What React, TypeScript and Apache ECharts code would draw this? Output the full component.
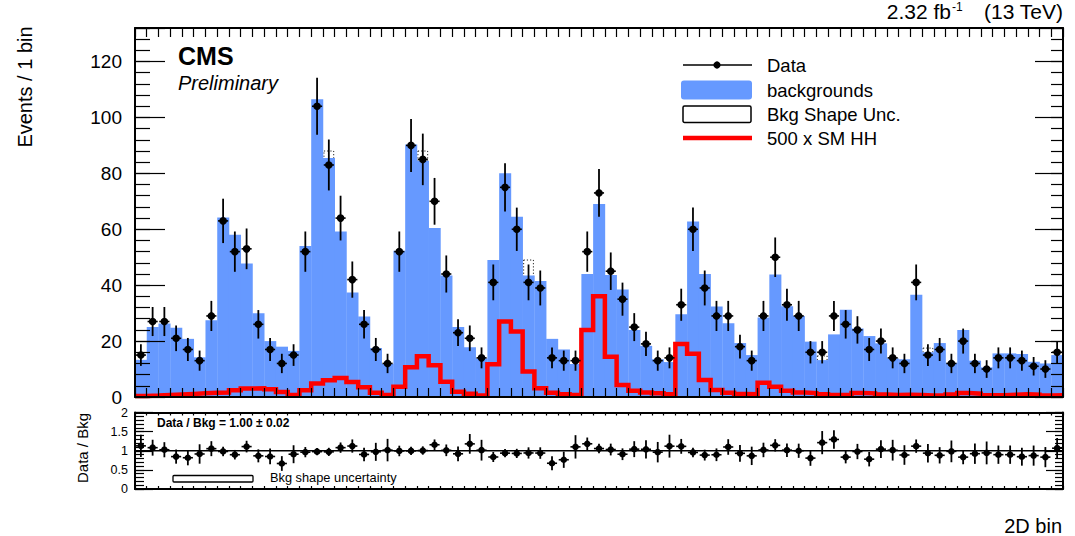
import React, { useEffect, useRef } from 'react';
import * as echarts from 'echarts';

// 79 bins of the unrolled 2D distribution
const binCount = 79;

// Observed events per bin
const dataCounts = [
  15, 27, 27, 21, 17, 13, 29, 63, 52, 53,
  26, 17, 12, 15, 52, 104, 83, 64, 42, 26,
  17, 12, 52, 90, 85, 70, 44, 23, 21, 14,
  41, 75, 60, 41, 39, 14, 13, 13, 52, 73,
  45, 35, 25, 19, 13, 14, 33, 60, 39, 29,
  29, 18, 13, 29, 50, 33, 29, 16, 16, 29,
  26, 24, 17, 20, 14, 12, 41, 15, 17, 12,
  20, 12, 10, 14, 14, 13, 11, 10, 16,
];

// Expected background yield per bin
const bkgYields = [
  13.3, 25.0, 26.3, 24.8, 20.8, 14.2, 27.5, 64.2, 58.0, 47.8,
  30.0, 20.0, 18.0, 16.5, 54.0, 106.5, 85.5, 59.2, 37.4, 28.8,
  17.5, 11.8, 52.3, 90.3, 84.5, 60.5, 43.5, 25.0, 17.8, 13.8,
  49.0, 80.0, 64.5, 43.5, 41.5, 20.8, 17.0, 11.8, 44.0, 69.0,
  43.6, 38.5, 24.0, 18.3, 13.5, 12.5, 29.6, 62.8, 44.0, 32.4,
  26.4, 19.3, 15.0, 28.4, 43.8, 32.5, 29.0, 19.8, 13.2, 22.4,
  31.2, 24.5, 21.8, 19.2, 13.8, 13.5, 36.6, 16.0, 19.3, 12.2,
  24.0, 13.0, 10.6, 15.6, 15.6, 15.4, 12.6, 12.0, 15.0,
];

// 500 x SM HH expectation per bin
const hhSignal = [
  0.4, 0.5, 0.7, 0.9, 1.1, 1.3, 1.5, 1.6, 2.4, 3.0,
  3.1, 2.8, 1.8, 0.7, 2.4, 4.8, 6.0, 6.8, 5.4, 3.5,
  1.5, 0.7, 3.7, 10.6, 14.6, 11.4, 5.5, 1.9, 1.2, 0.5,
  11.7, 27.0, 23.4, 9.1, 3.1, 1.5, 1.0, 0.7, 24.0, 36.0,
  14.4, 4.3, 2.2, 1.6, 1.3, 1.0, 19.0, 15.5, 6.1, 2.5,
  1.5, 1.1, 1.0, 5.1, 3.7, 2.2, 1.6, 1.4, 1.0, 0.7,
  0.8, 1.4, 1.3, 0.9, 0.7, 0.8, 0.7, 0.5, 0.6, 0.9,
  1.4, 1.2, 0.6, 0.6, 0.8, 1.0, 0.8, 0.5, 0.6,
];

// Background shape uncertainty per bin (0 where it is negligible)
const bkgShapeUnc = [
  0, 0, 0, 0, 0, 0, 0, 0, 0, 0,
  0, 0, 0, 0, 0, 0, 2.5, 0, 0, 0,
  0, 0, 0, 0, 3.5, 0, 0, 0, 0, 0,
  0, 0, 0, 5.5, 0, 0, 0, 0, 0, 0,
  0, 0, 0, 0, 0, 0, 0, 0, 0, 0,
  0, 0, 0, 0, 0, 0, 0, 0, 1.5, 0,
  0, 0, 0, 0, 0, 0, 0, 1.5, 0, 0,
  0, 0, 0, 0, 0, 0, 0, 0, 0,
];

const mainTickLabels = [0, 20, 40, 60, 80, 100, 120];
const ratioTickLabels = [0, 0.5, 1, 1.5, 2];

const FONT = "'Liberation Sans', Arial, Helvetica, sans-serif";
const BLUE = '#6699ff';
const RED = '#ff0000';

function xAxisDef(gridIndex: number, position: string, tickLen: number) {
  return {
    type: 'value',
    gridIndex,
    position,
    min: 0,
    max: binCount,
    interval: 1,
    z: 10,
    axisLine: { show: true, onZero: false, lineStyle: { color: '#000', width: 2 } },
    axisTick: { show: true, inside: true, length: tickLen, lineStyle: { color: '#000', width: 1.2 } },
    axisLabel: { show: false },
    splitLine: { show: false },
  };
}

function yAxisDef(
  gridIndex: number,
  position: string,
  max: number,
  interval: number,
  tickLen: number,
  showLine: boolean,
  labels: number[] | null,
  fontSize: number,
  margin: number,
) {
  return {
    type: 'value',
    gridIndex,
    position,
    min: 0,
    max,
    interval,
    z: 10,
    axisLine: { show: showLine, onZero: false, lineStyle: { color: '#000', width: 2 } },
    axisTick: { show: true, inside: true, length: tickLen, lineStyle: { color: '#000', width: 1.2 } },
    axisLabel: labels
      ? {
          show: true,
          color: '#000',
          fontFamily: FONT,
          fontSize,
          margin,
          formatter: (v: number) => (labels.some((t) => Math.abs(t - v) < 1e-6) ? String(v) : ''),
        }
      : { show: false },
    splitLine: { show: false },
  };
}

function buildOption() {
  const bkgRows = bkgYields.map((b, i) => [i, b]);
  const uncRows = bkgYields
    .map((b, i) => [i, b, bkgShapeUnc[i]])
    .filter((r) => r[2] > 0);
  const sigRows = hhSignal.map((s, i) => [i, s]);
  sigRows.push([binCount, hhSignal[binCount - 1]]);
  // Poisson uncertainty on each observed count
  const dataRows = dataCounts.map((n, i) => [i, n, Math.sqrt(n)]);
  const ratioRows = dataCounts.map((n, i) => [i, n / bkgYields[i], Math.sqrt(n) / bkgYields[i]]);

  const pointRenderer = (radius: number, yMax: number) => (params: any, api: any) => {
    const i = api.value(0);
    const v = api.value(1);
    const e = api.value(2);
    const c = api.coord([i + 0.5, v]);
    const l = api.coord([i + 0.07, v]);
    const r = api.coord([i + 0.93, v]);
    const top = api.coord([i + 0.5, Math.min(yMax, v + e)]);
    const bot = api.coord([i + 0.5, Math.max(0, v - e)]);
    return {
      type: 'group',
      children: [
        { type: 'line', shape: { x1: c[0], y1: top[1], x2: c[0], y2: bot[1] }, style: { stroke: '#000', lineWidth: 1.8 } },
        { type: 'line', shape: { x1: l[0], y1: c[1], x2: r[0], y2: c[1] }, style: { stroke: '#000', lineWidth: 1.6 } },
        { type: 'circle', shape: { cx: c[0], cy: c[1], r: radius }, style: { fill: '#000' } },
      ],
    };
  };

  const textStyle = (text: string, fontSize: number, extra: any = {}) => ({
    text,
    fill: '#000',
    fontFamily: FONT,
    fontSize,
    ...extra,
  });

  return {
    animation: false,
    backgroundColor: '#fff',
    grid: [
      { left: 135, top: 28, width: 928, height: 369, outerBoundsMode: 'none' },
      { left: 135, top: 412.5, width: 928, height: 76.5, outerBoundsMode: 'none' },
    ],
    xAxis: [
      xAxisDef(0, 'bottom', 9),
      xAxisDef(0, 'top', 9),
      xAxisDef(1, 'bottom', 3),
      xAxisDef(1, 'top', 3),
    ],
    yAxis: [
      yAxisDef(0, 'left', 132, 20, 30, true, mainTickLabels, 19, 13),
      yAxisDef(0, 'left', 132, 4, 15, false, null, 0, 0),
      yAxisDef(0, 'right', 132, 20, 28, true, null, 0, 0),
      yAxisDef(0, 'right', 132, 4, 12, false, null, 0, 0),
      yAxisDef(1, 'left', 2, 0.5, 18, true, ratioTickLabels, 12.5, 7),
      yAxisDef(1, 'left', 2, 0.1, 9, false, null, 0, 0),
      yAxisDef(1, 'right', 2, 0.5, 17, true, null, 0, 0),
      yAxisDef(1, 'right', 2, 0.1, 8, false, null, 0, 0),
    ],
    series: [
      {
        name: 'Bkg Shape Unc.',
        type: 'custom',
        xAxisIndex: 0,
        yAxisIndex: 0,
        z: 1,
        data: uncRows,
        renderItem: (params: any, api: any) => {
          const i = api.value(0);
          const b = api.value(1);
          const u = api.value(2);
          const p0 = api.coord([i, b + u]);
          const p1 = api.coord([i + 1, b - u]);
          return {
            type: 'rect',
            shape: { x: p0[0] + 1, y: p0[1], width: p1[0] - p0[0] - 2, height: p1[1] - p0[1] },
            style: { fill: 'none', stroke: '#222', lineWidth: 1, lineDash: [1.2, 2] },
          };
        },
      },
      {
        name: 'backgrounds',
        type: 'custom',
        xAxisIndex: 0,
        yAxisIndex: 0,
        z: 2,
        data: bkgRows,
        renderItem: (params: any, api: any) => {
          const i = api.value(0);
          const b = api.value(1);
          const p0 = api.coord([i, b]);
          const p1 = api.coord([i + 1, 0]);
          return {
            type: 'rect',
            shape: { x: p0[0], y: p0[1], width: p1[0] - p0[0] + 0.3, height: p1[1] - p0[1] },
            style: { fill: BLUE },
          };
        },
      },
      {
        name: '500 x SM HH',
        type: 'line',
        xAxisIndex: 0,
        yAxisIndex: 0,
        z: 3,
        step: 'end',
        clip: false,
        symbol: 'none',
        data: sigRows,
        lineStyle: { color: RED, width: 4.5, join: 'miter' },
      },
      {
        name: 'Data',
        type: 'custom',
        xAxisIndex: 0,
        yAxisIndex: 0,
        z: 5,
        data: dataRows,
        renderItem: pointRenderer(3.8, 132),
      },
      {
        name: 'Data / Bkg',
        type: 'custom',
        xAxisIndex: 2,
        yAxisIndex: 4,
        z: 5,
        data: ratioRows,
        renderItem: pointRenderer(3.3, 2),
      },
      {
        name: 'unity',
        type: 'line',
        xAxisIndex: 2,
        yAxisIndex: 4,
        z: 4,
        symbol: 'none',
        data: [
          [0, 1],
          [binCount, 1],
        ],
        lineStyle: { color: '#000', width: 1.5 },
      },
    ],
    graphic: [
      // axis titles
      {
        type: 'text',
        x: 25,
        y: 87,
        rotation: Math.PI / 2,
        style: textStyle('Events / 1 bin', 20, { align: 'center', verticalAlign: 'middle' }),
      },
      {
        type: 'text',
        x: 82,
        y: 448,
        rotation: Math.PI / 2,
        style: textStyle('Data / Bkg', 15, { align: 'center', verticalAlign: 'middle' }),
      },
      {
        type: 'text',
        x: 1062,
        y: 526,
        style: textStyle('2D bin', 20, { align: 'right', verticalAlign: 'middle' }),
      },
      // luminosity / energy label
      {
        type: 'text',
        x: 951,
        y: 11,
        style: textStyle('2.32 fb', 21, { align: 'right', verticalAlign: 'middle' }),
      },
      {
        type: 'text',
        x: 952,
        y: 1,
        style: textStyle('-1', 12, { align: 'left', verticalAlign: 'top' }),
      },
      {
        type: 'text',
        x: 1063,
        y: 11,
        style: textStyle('(13 TeV)', 21, { align: 'right', verticalAlign: 'middle' }),
      },
      // experiment label
      {
        type: 'text',
        x: 178,
        y: 56,
        style: textStyle('CMS', 25, { fontWeight: 'bold', align: 'left', verticalAlign: 'middle' }),
      },
      {
        type: 'text',
        x: 178,
        y: 83,
        style: textStyle('Preliminary', 20, { fontStyle: 'italic', align: 'left', verticalAlign: 'middle' }),
      },
      // legend
      {
        type: 'line',
        shape: { x1: 683, y1: 65, x2: 752, y2: 65 },
        style: { stroke: '#000', lineWidth: 1.5 },
      },
      { type: 'circle', shape: { cx: 717, cy: 65, r: 3.6 }, style: { fill: '#000' } },
      {
        type: 'rect',
        shape: { x: 681, y: 80.5, width: 71, height: 19, r: 3 },
        style: { fill: BLUE },
      },
      {
        type: 'rect',
        shape: { x: 683, y: 106, width: 68, height: 16.5, r: 1.5 },
        style: { fill: '#fff', stroke: '#000', lineWidth: 1.5 },
      },
      {
        type: 'line',
        shape: { x1: 683, y1: 138, x2: 752, y2: 138 },
        style: { stroke: RED, lineWidth: 4.7 },
      },
      { type: 'text', x: 767, y: 65, style: textStyle('Data', 18.5, { verticalAlign: 'middle' }) },
      { type: 'text', x: 767, y: 90, style: textStyle('backgrounds', 18.5, { verticalAlign: 'middle' }) },
      { type: 'text', x: 767, y: 114, style: textStyle('Bkg Shape Unc.', 18.5, { verticalAlign: 'middle' }) },
      { type: 'text', x: 767, y: 138, style: textStyle('500 x SM HH', 18.5, { verticalAlign: 'middle' }) },
      // ratio panel annotations
      {
        type: 'text',
        x: 157,
        y: 423,
        style: textStyle('Data / Bkg = 1.00 \u00b1 0.02', 12, { fontWeight: 'bold', verticalAlign: 'middle' }),
      },
      {
        type: 'rect',
        shape: { x: 173, y: 475.5, width: 80, height: 6.5, r: 1 },
        style: { fill: '#fff', stroke: '#000', lineWidth: 1.3 },
      },
      {
        type: 'text',
        x: 270,
        y: 477,
        style: textStyle('Bkg shape uncertainty', 12.8, { verticalAlign: 'middle' }),
      },
    ],
  };
}

export default function App() {
  const ref = useRef<HTMLDivElement>(null);

  useEffect(() => {
    if (!ref.current) return;
    const chart = echarts.init(ref.current, null, { renderer: 'svg' });
    chart.setOption(buildOption() as any);
    return () => chart.dispose();
  }, []);

  return (
    <div
      ref={ref}
      style={{ position: 'fixed', left: 0, top: 0, width: 1075, height: 536, background: '#fff' }}
    />
  );
}
